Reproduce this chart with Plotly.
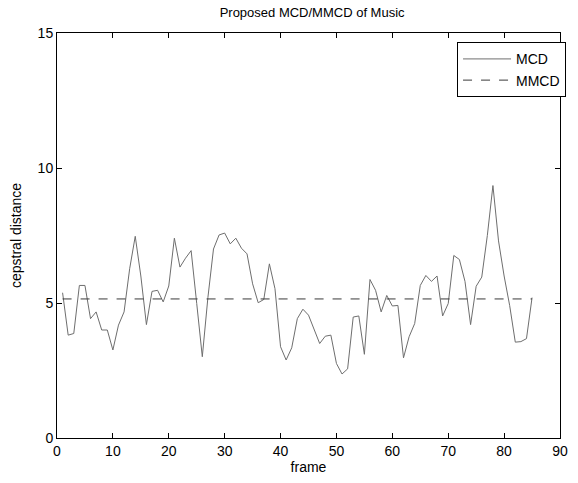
import plotly.graph_objects as go

# Cepstral distance per frame (frames 1..85)
frames = list(range(1, 86))
mcd = [
    5.38, 3.81, 3.87, 5.65, 5.65, 4.42, 4.67, 4.00, 4.00, 3.26,
    4.18, 4.67, 6.27, 7.47, 6.00, 4.20, 5.43, 5.47, 5.04, 5.63,
    7.40, 6.33, 6.66, 6.94, 4.98, 3.01, 5.20, 7.00, 7.52, 7.59,
    7.19, 7.40, 7.03, 6.82, 5.71, 5.01, 5.13, 6.45, 5.53, 3.38,
    2.89, 3.34, 4.42, 4.77, 4.55, 4.00, 3.50, 3.77, 3.81, 2.76,
    2.37, 2.56, 4.48, 4.52, 3.10, 5.87, 5.47, 4.67, 5.28, 4.89,
    4.91, 2.97, 3.75, 4.24, 5.65, 6.02, 5.80, 6.00, 4.52, 4.98,
    6.76, 6.61, 5.80, 4.20, 5.62, 5.96, 7.50, 9.35, 7.30, 6.00,
    4.90, 3.55, 3.57, 3.68, 5.20,
]
mmcd_value = 5.15
mmcd = [mmcd_value] * len(frames)

x_ticks = [0, 10, 20, 30, 40, 50, 60, 70, 80, 90]
y_ticks = [0, 5, 10, 15]

fig = go.Figure()
fig.add_trace(go.Scatter(
    x=frames, y=mcd, mode="lines", name="MCD",
    line=dict(color="#6e6e6e", width=1),
))
fig.add_trace(go.Scatter(
    x=frames, y=mmcd, mode="lines", name="MMCD",
    line=dict(color="#3a3a3a", width=1, dash="dash"),
))

axis_common = dict(
    showgrid=False, zeroline=False, showline=True, linecolor="black",
    linewidth=1, mirror="ticks", ticks="inside", ticklen=5,
    tickcolor="black", tickfont=dict(size=14, color="black"),
)

fig.update_layout(
    width=578, height=483,
    margin=dict(l=57, r=10, t=33, b=43),
    paper_bgcolor="white", plot_bgcolor="white",
    font=dict(family="Liberation Sans, Arial, sans-serif", color="black"),
    title=dict(text="Proposed MCD/MMCD of Music", x=0.54, xanchor="center",
               y=0.975, yanchor="middle", font=dict(size=13)),
    xaxis=dict(range=[0, 90], tickvals=x_ticks,
               title=dict(text="frame", font=dict(size=14), standoff=4),
               **axis_common),
    yaxis=dict(range=[0, 15], tickvals=y_ticks,
               title=dict(text="cepstral distance", font=dict(size=14), standoff=12),
               **axis_common),
    legend=dict(x=1.012, y=0.977, xanchor="right", yanchor="top",
                bordercolor="black", borderwidth=1, bgcolor="white",
                font=dict(size=14), itemwidth=48, tracegroupgap=0),
    showlegend=True,
)

fig.write_html("out.html")
